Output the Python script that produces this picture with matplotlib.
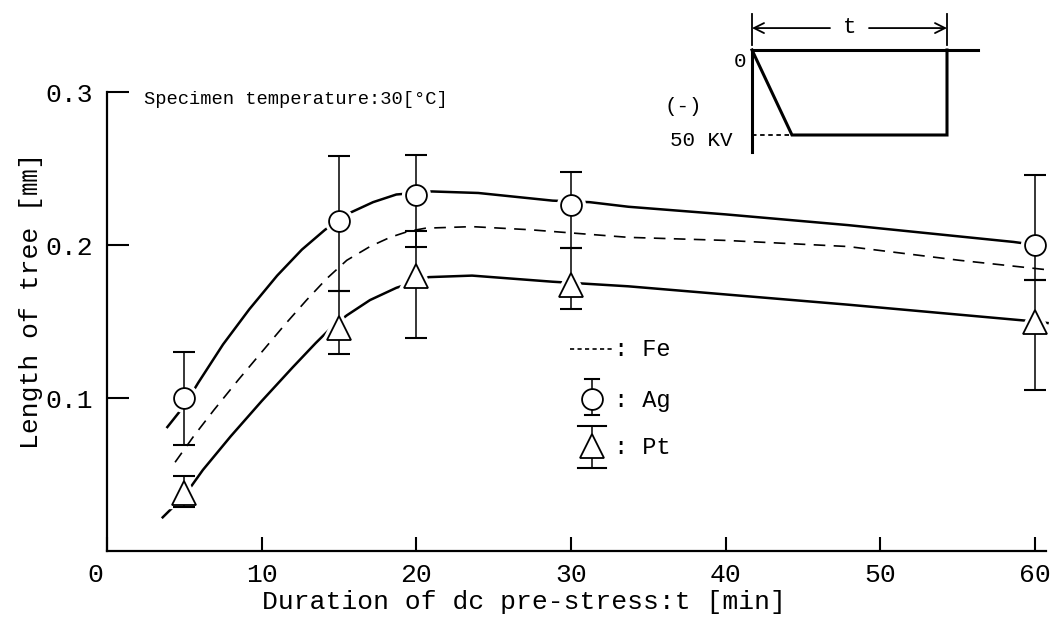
import matplotlib
matplotlib.use("Agg")
import matplotlib.pyplot as plt
from matplotlib import transforms

plt.rcParams['font.family'] = ['Liberation Mono', 'Noto Sans CJK JP', 'DejaVu Sans']

# --- data ---
t_points = [5, 15, 20, 30, 60]

ag_len = [0.100, 0.216, 0.233, 0.226, 0.200]
ag_lo = [0.069, 0.170, 0.199, 0.198, 0.177]
ag_hi = [0.130, 0.258, 0.259, 0.248, 0.246]

pt_len = [0.038, 0.146, 0.180, 0.174, 0.150]
pt_lo = [0.029, 0.129, 0.139, 0.158, 0.105]
pt_hi = [0.049, 0.170, 0.209, 0.198, 0.177]

# hand drawn fitting curves
ag_curve_x = [3.9, 5.0, 5.9, 7.5, 9.2, 11.0, 12.6, 14.1, 15.7, 17.2, 18.7, 21.0, 24.0, 28.8, 31.2, 33.7, 40.0, 47.9, 58.6, 60.8]
ag_curve_y = [0.081, 0.095, 0.110, 0.135, 0.158, 0.180, 0.197, 0.210, 0.221, 0.228, 0.233, 0.235, 0.234, 0.229, 0.228, 0.225, 0.220, 0.213, 0.202, 0.199]

fe_curve_x = [4.4, 5.6, 6.9, 8.5, 10.0, 11.5, 12.9, 14.2, 15.5, 17.0, 18.3, 19.5, 20.6, 23.6, 27.3, 33.7, 40.0, 47.9, 55.1, 60.6]
fe_curve_y = [0.058, 0.075, 0.092, 0.112, 0.130, 0.148, 0.164, 0.178, 0.190, 0.199, 0.205, 0.209, 0.211, 0.212, 0.210, 0.205, 0.203, 0.199, 0.190, 0.184]

pt_curve_x = [3.6, 5.0, 6.2, 8.0, 10.0, 12.0, 13.5, 14.5, 15.5, 17.0, 18.7, 20.8, 23.6, 28.8, 33.7, 47.9, 60.0, 60.8]
pt_curve_y = [0.022, 0.036, 0.053, 0.075, 0.098, 0.120, 0.136, 0.146, 0.154, 0.164, 0.172, 0.179, 0.180, 0.176, 0.173, 0.161, 0.150, 0.149]

x_ticks = [0, 10, 20, 30, 40, 50, 60]
y_ticks = [0.1, 0.2, 0.3]

# inset: applied voltage waveform (t normalised, kV)
wave_t = [0.0, 0.205, 1.0, 1.0]
wave_v = [0.0, -50.0, -50.0, 0.0]
zero_line_t = [0.0, 1.16]

W, H = 1055, 621
fig = plt.figure(figsize=(W / 100, H / 100), dpi=100)
ax = fig.add_axes([107 / W, 1 - 551 / H, (1046 - 107) / W, (551 - 92) / H])
ax.set_xlim(0, 60.7)
ax.set_ylim(0, 0.3)

lw_curve = 1.8
ax.plot(ag_curve_x, ag_curve_y, color='black', lw=lw_curve, zorder=1, clip_on=False)
ax.plot(pt_curve_x, pt_curve_y, color='black', lw=lw_curve, zorder=1, clip_on=False)
ax.plot(fe_curve_x, fe_curve_y, color='black', lw=1.2, dashes=(7, 5), zorder=1, clip_on=False)

# white halos so curves stop short of the markers
ax.plot(t_points, ag_len, 'o', ms=15, mfc='white', mec='white', mew=6, zorder=2, clip_on=False)
ax.plot(t_points, pt_len, '^', ms=17, mfc='white', mec='white', mew=6, zorder=2, clip_on=False)

ag_err = [[y - l for y, l in zip(ag_len, ag_lo)], [h - y for y, h in zip(ag_len, ag_hi)]]
pt_err = [[y - l for y, l in zip(pt_len, pt_lo)], [h - y for y, h in zip(pt_len, pt_hi)]]
ax.errorbar(t_points, ag_len, yerr=ag_err, fmt='none', ecolor='black', elinewidth=1.1,
            capsize=8, capthick=1.5, zorder=3, clip_on=False)
ax.errorbar(t_points, pt_len, yerr=pt_err, fmt='none', ecolor='black', elinewidth=1.1,
            capsize=8, capthick=1.5, zorder=3, clip_on=False)

ax.plot(t_points, ag_len, 'o', ms=15, mfc='white', mec='black', mew=1.3, zorder=4, clip_on=False)
ax.plot(t_points, pt_len, '^', ms=17, mfc='white', mec='black', mew=1.3, zorder=4, clip_on=False)

# axes styling
for s in ['top', 'right']:
    ax.spines[s].set_visible(False)
for s in ['left', 'bottom']:
    ax.spines[s].set_linewidth(1.6)
ax.set_xticks(x_ticks)
ax.set_xticklabels([str(v) for v in x_ticks])
ax.set_yticks(y_ticks)
ax.set_yticklabels([f"{v:.1f}" for v in y_ticks])
ax.tick_params(axis='x', direction='in', length=10, width=1.5, pad=9, labelsize=19)
ax.tick_params(axis='y', direction='in', length=16, width=1.5, pad=10, labelsize=19)
# the "0" sits a little left of the spine in the original
lab0 = ax.get_xticklabels()[0]
lab0.set_transform(lab0.get_transform() + transforms.ScaledTranslation(-12 / 100, 0, fig.dpi_scale_trans))

ax.set_xlabel('Duration of dc pre-stress:t [min]', fontsize=19)
ax.xaxis.set_label_coords(0.444, -0.085)
ax.set_ylabel('Length of tree [㎜]', fontsize=19)
ax.yaxis.set_label_coords(-0.068, 0.545)

ax.text(2.4, 0.295, 'Specimen temperature:30[°C]', fontsize=13.5, va='center', ha='left')

# legend, drawn by hand like the original key
tr = ax.transAxes
def fx(px):
    return (px - 107) / 939
def fy(py):
    return (551 - py) / 459

ax.plot([fx(570), fx(612)], [fy(349), fy(349)], color='black', lw=1.2, dashes=(2.5, 2), transform=tr)
ax.plot([fx(592), fx(592)], [fy(379), fy(415)], color='black', lw=1.1, transform=tr)
ax.plot([fx(585), fx(599)], [fy(379), fy(379)], color='black', lw=1.5, transform=tr)
ax.plot([fx(585), fx(599)], [fy(415), fy(415)], color='black', lw=1.5, transform=tr)
ax.plot([fx(592)], [fy(399)], 'o', ms=15, mfc='white', mec='black', mew=1.3, transform=tr)
ax.plot([fx(592), fx(592)], [fy(426), fy(468)], color='black', lw=1.1, transform=tr)
ax.plot([fx(578), fx(606)], [fy(426), fy(426)], color='black', lw=1.5, transform=tr)
ax.plot([fx(578), fx(606)], [fy(468), fy(468)], color='black', lw=1.5, transform=tr)
ax.plot([fx(592)], [fy(446)], '^', ms=17, mfc='white', mec='black', mew=1.3, transform=tr)
for lab, py in [(': Fe', 349), (': Ag', 400), (': Pt', 447)]:
    ax.text(fx(614), fy(py), lab, fontsize=17, va='center', ha='left', transform=tr)

# inset waveform diagram
ax2 = fig.add_axes([700 / W, 1 - 170 / H, 300 / W, 170 / H])
ax2.set_xlim(-52 / 195, 248 / 195)
ax2.set_ylim(-(170 - 50) / 1.7, 50 / 1.7)
ax2.axis('off')
ax2.plot(wave_t, wave_v, color='black', lw=2.2, solid_joinstyle='miter')
ax2.plot(zero_line_t, [0, 0], color='black', lw=2.2)
ax2.plot([0, 0], [0, -60], color='black', lw=2.2)
ax2.plot([0, 0.205], [-50, -50], color='black', lw=1.3, dashes=(2.5, 2))
ax2.plot([0, 0], [3, 21], color='black', lw=1.3)
ax2.plot([1, 1], [3, 21], color='black', lw=1.3)
ax2.annotate('', xy=(0.0, 12.9), xytext=(0.4, 12.9),
             arrowprops=dict(arrowstyle='->', lw=1.3, color='black', mutation_scale=18, shrinkA=0, shrinkB=0))
ax2.annotate('', xy=(1.0, 12.9), xytext=(0.6, 12.9),
             arrowprops=dict(arrowstyle='->', lw=1.3, color='black', mutation_scale=18, shrinkA=0, shrinkB=0))
ax2.text(0.5, 13.5, 't', fontsize=16, ha='center', va='center')
ax2.text(-0.03, -7, '0', fontsize=15, ha='right', va='center')
ax2.text(-0.35, -33, '(-)', fontsize=15, ha='center', va='center')
ax2.text(-0.1, -53, '50 KV', fontsize=15, ha='right', va='center')

fig.savefig('out.png', dpi=100)
